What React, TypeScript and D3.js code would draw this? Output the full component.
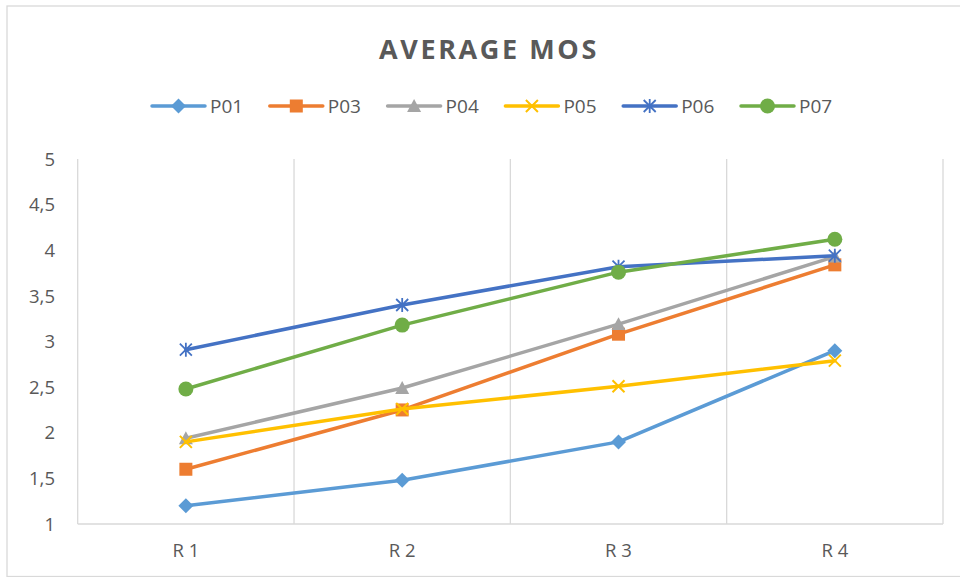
import React, { useEffect, useRef } from "react";
import * as d3 from "d3";

const categories = ["R 1", "R 2", "R 3", "R 4"];
const seriesNames = ["P01", "P03", "P04", "P05", "P06", "P07"];
const P01 = [1.2, 1.48, 1.9, 2.9];
const P03 = [1.6, 2.25, 3.08, 3.84];
const P04 = [1.94, 2.49, 3.19, 3.93];
const P05 = [1.9, 2.26, 2.51, 2.79];
const P06 = [2.91, 3.4, 3.82, 3.94];
const P07 = [2.48, 3.18, 3.76, 4.12];
const seriesValues = [P01, P03, P04, P05, P06, P07];
const colors = ["#5B9BD5", "#ED7D31", "#A5A5A5", "#FFC000", "#4472C4", "#70AD47"];
const markerTypes = ["diamond", "square", "triangle", "x", "star", "circle"];
const yTicks = [1, 1.5, 2, 2.5, 3, 3.5, 4, 4.5, 5];
const title = "AVERAGE MOS";

const FONT = "'Open Sans', 'Liberation Sans', sans-serif";

function drawMarker(g: any, type: string, cx: number, cy: number, color: string) {
  if (type === "diamond") {
    const h = 7.5;
    g.append("path").attr("d", `M${cx},${cy - h}L${cx + h},${cy}L${cx},${cy + h}L${cx - h},${cy}Z`).attr("fill", color);
  } else if (type === "square") {
    const h = 6.5;
    g.append("rect").attr("x", cx - h).attr("y", cy - h).attr("width", 2 * h).attr("height", 2 * h).attr("fill", color);
  } else if (type === "triangle") {
    const h = 7;
    g.append("path").attr("d", `M${cx},${cy - h}L${cx + h},${cy + h * 0.85}L${cx - h},${cy + h * 0.85}Z`).attr("fill", color);
  } else if (type === "x") {
    const h = 6;
    g.append("path").attr("d", `M${cx - h},${cy - h}L${cx + h},${cy + h}M${cx + h},${cy - h}L${cx - h},${cy + h}`).attr("stroke", color).attr("stroke-width", 2).attr("fill", "none");
  } else if (type === "star") {
    const h = 6;
    g.append("path").attr("d", `M${cx - h},${cy - h}L${cx + h},${cy + h}M${cx + h},${cy - h}L${cx - h},${cy + h}M${cx},${cy - h - 1}L${cx},${cy + h + 1}`).attr("stroke", color).attr("stroke-width", 1.8).attr("fill", "none");
  } else {
    g.append("circle").attr("cx", cx).attr("cy", cy).attr("r", 7.5).attr("fill", color);
  }
}

export default function App() {
  const ref = useRef<SVGSVGElement | null>(null);
  useEffect(() => {
    const svg = d3.select(ref.current);
    svg.selectAll("*").remove();
    const W = 960, H = 577;
    const left = 77.7, right = 943, top = 159, bottom = 524;

    svg.append("rect").attr("x", 0).attr("y", 0).attr("width", W).attr("height", H).attr("fill", "#fff");
    svg.append("rect").attr("x", 7).attr("y", 6).attr("width", W + 10).attr("height", H - 6.5).attr("fill", "none").attr("stroke", "#D9D9D9").attr("stroke-width", 1.3);

    const x = d3.scaleBand().domain(categories).range([left, right]).padding(0);
    const y = d3.scaleLinear().domain([1, 5]).range([bottom, top]);

    const bounds = categories.map((c) => (x(c) as number)).concat([right]);
    bounds.forEach((bx) => {
      svg.append("line").attr("x1", bx).attr("x2", bx).attr("y1", top).attr("y2", bottom)
        .attr("stroke", "#D9D9D9").attr("stroke-width", 1.3);
    });
    svg.append("line").attr("x1", left).attr("x2", right).attr("y1", bottom).attr("y2", bottom)
      .attr("stroke", "#D9D9D9").attr("stroke-width", 1.3);

    svg.append("g").selectAll("text").data(yTicks).enter().append("text")
      .attr("x", 55).attr("y", (d) => y(d)).attr("dy", "0.36em").attr("text-anchor", "end")
      .attr("font-family", FONT).attr("font-size", 18.5).attr("fill", "#595959")
      .text((d) => String(d).replace(".", ","));

    svg.append("g").selectAll("text").data(categories).enter().append("text")
      .attr("x", (d) => (x(d) as number) + x.bandwidth() / 2).attr("y", 557).attr("text-anchor", "middle")
      .attr("font-family", FONT).attr("font-size", 18.5).attr("fill", "#595959")
      .text((d) => d);

    svg.append("text").attr("x", 489).attr("y", 59).attr("text-anchor", "middle")
      .attr("font-family", FONT).attr("font-size", 27).attr("font-weight", "bold").attr("letter-spacing", 2.6)
      .attr("fill", "#595959").text(title);

    const line = d3.line<number>().x((_, i) => (x(categories[i]) as number) + x.bandwidth() / 2).y((d) => y(d));

    seriesValues.forEach((vals, si) => {
      const g = svg.append("g");
      g.append("path").attr("d", line(vals) as string).attr("fill", "none").attr("stroke", colors[si])
        .attr("stroke-width", 3.5).attr("stroke-linejoin", "round").attr("stroke-linecap", "round");
      vals.forEach((v, i) => {
        drawMarker(g, markerTypes[si], (x(categories[i]) as number) + x.bandwidth() / 2, y(v), colors[si]);
      });
    });

    const legY = 106;
    seriesNames.forEach((name, si) => {
      const lx = 152 + si * 117.8;
      const g = svg.append("g");
      g.append("line").attr("x1", lx).attr("x2", lx + 53).attr("y1", legY).attr("y2", legY)
        .attr("stroke", colors[si]).attr("stroke-width", 3.5).attr("stroke-linecap", "round");
      drawMarker(g, markerTypes[si], lx + 26.5, legY, colors[si]);
      g.append("text").attr("x", lx + 58).attr("y", legY).attr("dy", "0.36em")
        .attr("font-family", FONT).attr("font-size", 19).attr("fill", "#595959").text(name);
    });
  }, []);
  return (
    <svg ref={ref} width={960} height={577} style={{ position: "absolute", left: 0, top: 0 }} />
  );
}
